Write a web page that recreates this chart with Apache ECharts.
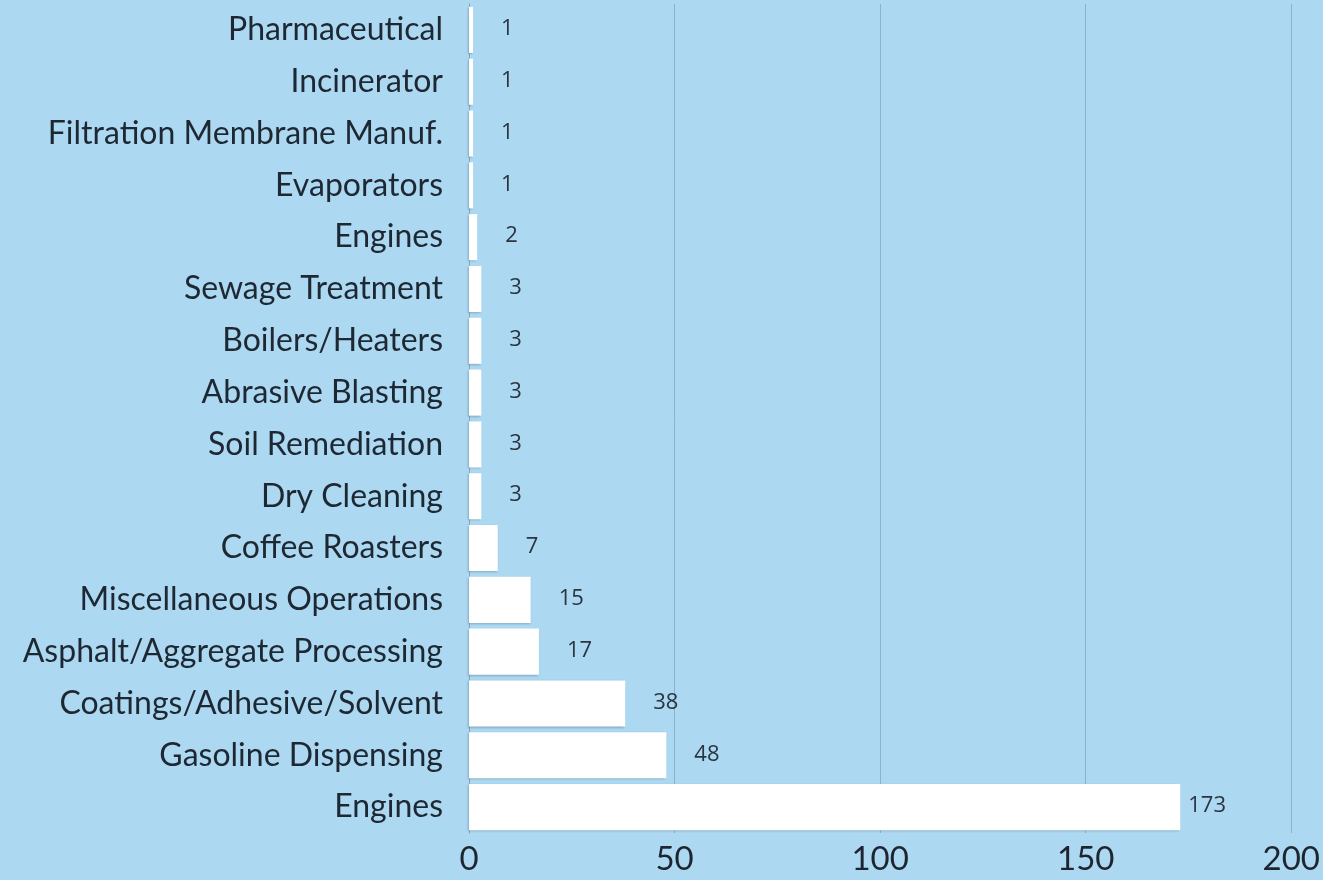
<!DOCTYPE html>
<html><head><meta charset="utf-8">
<script src="https://cdn.jsdelivr.net/npm/echarts@6/dist/echarts.min.js"></script>
<style>html,body{margin:0;padding:0;background:#acd8f2;}#c{width:1323px;height:880px;}</style>
</head><body><div id="c"></div>
<script>
var categories = ["Pharmaceutical","Incinerator","Filtration Membrane Manuf.","Evaporators","Engines","Sewage Treatment","Boilers/Heaters","Abrasive Blasting","Soil Remediation","Dry Cleaning","Coffee Roasters","Miscellaneous Operations","Asphalt/Aggregate Processing","Coatings/Adhesive/Solvent","Gasoline Dispensing","Engines"];
var values = [1,1,1,1,2,3,3,3,3,3,7,15,17,38,48,173];
var xTicks = [0,50,100,150,200];

var maxVal = Math.max.apply(null, values);
var seriesData = values.slice().reverse().map(function (v) {
  return v === maxVal ? {value: v, label: {distance: 8}} : v;
});

var chart = echarts.init(document.getElementById('c'));
chart.setOption({
  backgroundColor: '#acd8f2',
  animation: false,
  grid: {left: 469, right: 30, top: 4, bottom: 47, containLabel: false},
  xAxis: {
    type: 'value', min: xTicks[0], max: xTicks[xTicks.length-1], interval: 50,
    axisLine: {show: false}, axisTick: {show: false},
    splitLine: {show: true, lineStyle: {color: '#8db3cc', width: 1}},
    axisLabel: {fontFamily: 'Lato', fontSize: 33, color: '#1e2530', margin: 10}
  },
  yAxis: {
    type: 'category', data: categories.slice().reverse(),
    axisLine: {show: true, lineStyle: {color: '#8aa4b6'}}, axisTick: {show: false},
    axisLabel: {fontFamily: 'Lato', fontSize: 32, color: '#1e2833', margin: 26}
  },
  series: [{
    type: 'bar',
    data: seriesData,
    barCategoryGap: '11%',
    itemStyle: {color: '#ffffff', shadowColor: 'rgba(60,90,110,0.35)', shadowBlur: 2, shadowOffsetX: -1, shadowOffsetY: 1},
    label: {show: true, position: 'right', distance: 28, fontFamily: 'Open Sans', fontSize: 22, color: '#2a3540', offset: [0, -1]}
  }]
});
</script></body></html>
